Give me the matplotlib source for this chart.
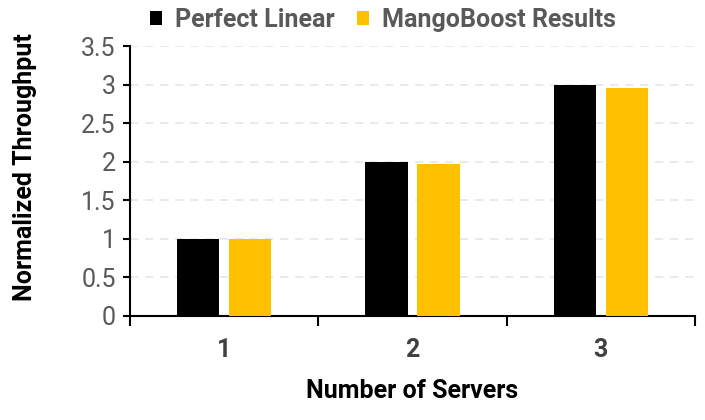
import numpy as np
import matplotlib
matplotlib.use("Agg")
import matplotlib.pyplot as plt
from matplotlib.ticker import FixedLocator

plt.rcParams['font.family'] = ['Roboto', 'DejaVu Sans']

servers = ["1", "2", "3"]
perfect_linear = [1.0, 2.0, 3.0]
mangoboost = [1.0, 1.97, 2.96]
yticks = [0, 0.5, 1, 1.5, 2, 2.5, 3, 3.5]
ytick_labels = ["0", "0.5", "1", "1.5", "2", "2.5", "3", "3.5"]

fig = plt.figure(figsize=(7.05, 4.2), dpi=100)
ax = fig.add_axes([0.184, 0.248, 0.802, 0.642])

x = np.arange(1, len(servers) + 1)
width = 0.225
off = 0.138
ax.bar(x - off, perfect_linear, width, color="#000000", label="Perfect Linear", zorder=3)
ax.bar(x + off, mangoboost, width, color="#FFC000", label="MangoBoost Results", zorder=3)

ax.set_xlim(0.5, 3.5)
ax.set_ylim(0, 3.5)
ax.set_yticks(yticks)
ax.set_yticklabels(ytick_labels)

# category labels centered, ticks on category boundaries
ax.set_xticks(x)
ax.set_xticklabels(servers, fontsize=18, fontweight="bold", color="#404040")
ax.xaxis.set_minor_locator(FixedLocator([0.5, 1.5, 2.5, 3.5]))
ax.tick_params(axis="x", which="major", length=0, pad=16)
ax.tick_params(axis="x", which="minor", length=7, width=1.5, direction="out", color="black")
ax.tick_params(axis="y", length=5, width=1.5, direction="out", color="black",
               labelsize=18, labelcolor="#595959", pad=5)

ax.grid(axis="y", color="#e6e6e6", linestyle=(0, (5, 4)), linewidth=1.2, zorder=0)
for s in ["top", "right"]:
    ax.spines[s].set_visible(False)
ax.spines["left"].set_linewidth(1.5)
ax.spines["bottom"].set_linewidth(1.5)

ax.set_ylabel("Normalized Throughput", fontsize=18, fontweight="bold", color="black")
ax.yaxis.set_label_coords(-0.164, 0.552)
ax.set_xlabel("Number of Servers", fontsize=18, fontweight="bold", color="black", labelpad=12)

leg = fig.legend(loc="upper center", bbox_to_anchor=(0.543, 1.035), ncol=2, frameon=False,
                 handlelength=0.5, handleheight=0.5, handletextpad=0.5, columnspacing=0.9,
                 prop={"size": 18, "weight": "bold"})
for t in leg.get_texts():
    t.set_color("#595959")

fig.savefig("out.png", dpi=100)
